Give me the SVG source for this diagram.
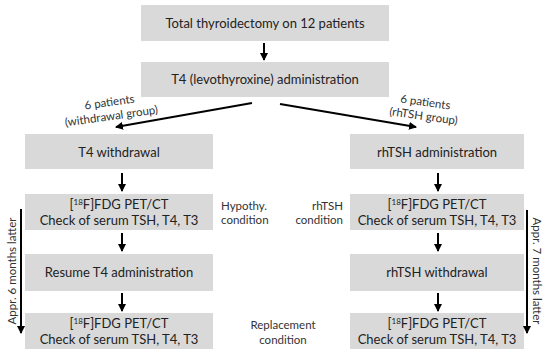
<svg xmlns="http://www.w3.org/2000/svg" width="550" height="362" viewBox="0 0 550 362">
<defs>
<marker id="ah" markerWidth="10" markerHeight="10" refX="7" refY="4" orient="auto" markerUnits="userSpaceOnUse">
<path d="M0,0 L8,4 L0,8 z" fill="#000"/>
</marker>
<style>
.box{fill:#d9d9d9;}
.t{font-family:Lato,"Liberation Sans",sans-serif;font-size:13px;fill:#222;text-anchor:middle;}
.s{font-family:Lato,"Liberation Sans",sans-serif;font-size:11.5px;fill:#333;}
.sup{font-size:8px;}
.ar{stroke:#000;stroke-width:2;fill:none;marker-end:url(#ah);}
</style>
</defs>
<rect width="550" height="362" fill="#fff"/>
<g id="n-total"><rect class="box" x="141" y="5" width="248" height="36"/><text class="t" x="265" y="27.5">Total thyroidectomy on 12 patients</text></g>
<g id="n-t4admin"><rect class="box" x="141" y="62" width="248" height="35"/><text class="t" x="265" y="84">T4 (levothyroxine) administration</text></g>
<g id="n-t4withdrawal"><rect class="box" x="25" y="134" width="188" height="35"/><text class="t" x="119" y="156.5">T4 withdrawal</text></g>
<g id="n-pet1"><rect class="box" x="25" y="194" width="188" height="36"/><text class="t" x="119" y="209">[<tspan class="sup" dy="-4">18</tspan><tspan dy="4">F]FDG PET/CT</tspan></text><text class="t" x="119" y="225">Check of serum TSH, T4, T3</text></g>
<g id="n-resume"><rect class="box" x="25" y="254" width="188" height="37"/><text class="t" x="119" y="277">Resume T4 administration</text></g>
<g id="n-pet2"><rect class="box" x="25" y="313" width="188" height="36"/><text class="t" x="119" y="328">[<tspan class="sup" dy="-4">18</tspan><tspan dy="4">F]FDG PET/CT</tspan></text><text class="t" x="119" y="344">Check of serum TSH, T4, T3</text></g>
<g id="n-rhtshadmin"><rect class="box" x="350" y="134" width="174" height="35"/><text class="t" x="437" y="156.5">rhTSH administration</text></g>
<g id="n-pet3"><rect class="box" x="350" y="194" width="174" height="36"/><text class="t" x="437" y="209">[<tspan class="sup" dy="-4">18</tspan><tspan dy="4">F]FDG PET/CT</tspan></text><text class="t" x="437" y="225">Check of serum TSH, T4, T3</text></g>
<g id="n-rhtshwd"><rect class="box" x="350" y="254" width="174" height="37"/><text class="t" x="437" y="277">rhTSH withdrawal</text></g>
<g id="n-pet4"><rect class="box" x="350" y="313" width="174" height="36"/><text class="t" x="437" y="328">[<tspan class="sup" dy="-4">18</tspan><tspan dy="4">F]FDG PET/CT</tspan></text><text class="t" x="437" y="344">Check of serum TSH, T4, T3</text></g>
<g id="labels">
<text class="s" x="221" y="210">Hypothy.</text>
<text class="s" x="221" y="224">condition</text>
<text class="s" x="343" y="210" text-anchor="end">rhTSH</text>
<text class="s" x="343" y="224" text-anchor="end">condition</text>
<text class="s" x="283" y="329" text-anchor="middle">Replacement</text>
<text class="s" x="283" y="344" text-anchor="middle">condition</text>
<g transform="rotate(-8 111 113)"><text class="s" x="111" y="106" text-anchor="middle">6 patients</text><text class="s" x="111" y="120" text-anchor="middle">(withdrawal group)</text></g>
<g transform="rotate(8 424 113)"><text class="s" x="424" y="106" text-anchor="middle">6 patients</text><text class="s" x="424" y="120" text-anchor="middle">(rhTSH group)</text></g>
<text class="s" transform="translate(16 271) rotate(-90)" text-anchor="middle">Appr. 6 months latter</text>
<text class="s" transform="translate(533 271) rotate(90)" text-anchor="middle">Appr. 7 months latter</text>
</g>
<g id="connectors">
<line class="ar" x1="264" y1="43" x2="264" y2="60"/>
<line class="ar" x1="252" y1="103" x2="116" y2="127"/>
<line class="ar" x1="280" y1="104" x2="416" y2="127"/>
<line class="ar" x1="122" y1="173" x2="122" y2="191"/>
<line class="ar" x1="122" y1="233" x2="122" y2="251"/>
<line class="ar" x1="122" y1="293" x2="122" y2="311"/>
<line class="ar" x1="438" y1="173" x2="438" y2="191"/>
<line class="ar" x1="438" y1="233" x2="438" y2="251"/>
<line class="ar" x1="438" y1="293" x2="438" y2="311"/>
<line class="ar" x1="21" y1="209" x2="21" y2="333"/>
<line class="ar" x1="527" y1="210" x2="527" y2="333"/>
</g>
</svg>
